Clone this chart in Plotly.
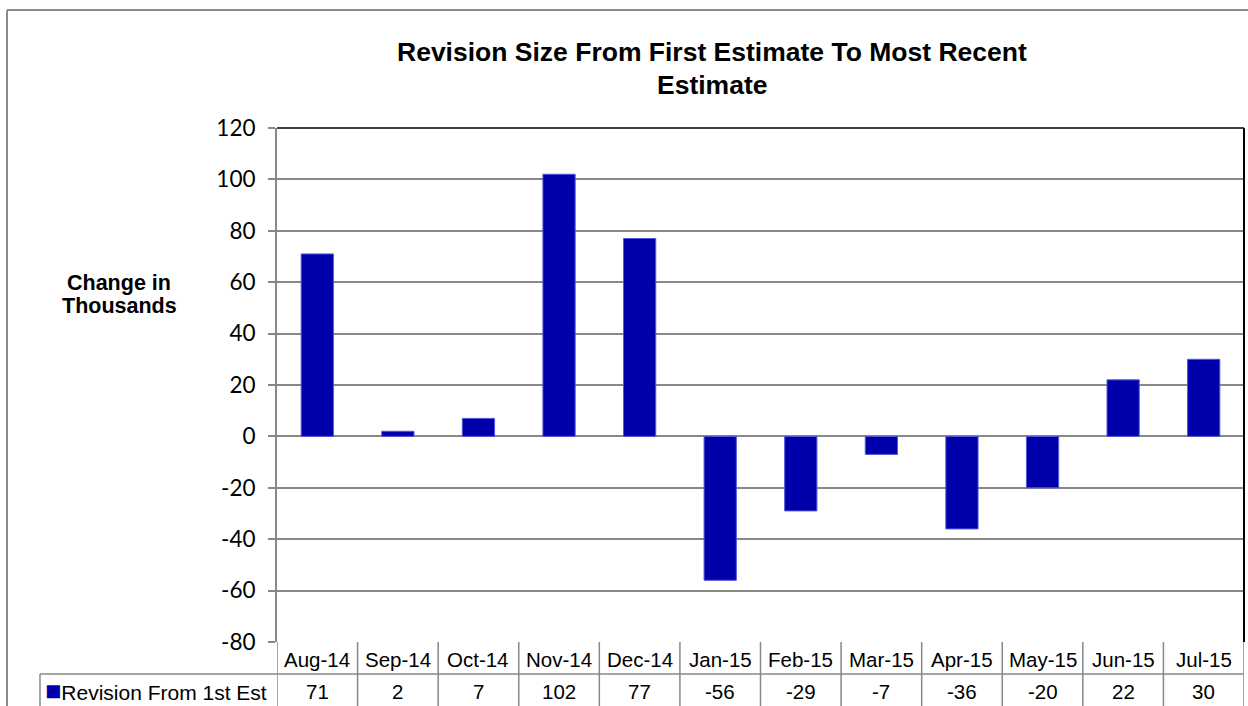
import plotly.graph_objects as go

categories = ["Aug-14", "Sep-14", "Oct-14", "Nov-14", "Dec-14", "Jan-15",
              "Feb-15", "Mar-15", "Apr-15", "May-15", "Jun-15", "Jul-15"]
revision = [71, 2, 7, 102, 77, -56, -29, -7, -36, -20, 22, 30]
series_name = "Revision From 1st Est"
title_lines = ["Revision Size From First Estimate To Most Recent", "Estimate"]
y_title_lines = ["Change in", "Thousands"]
y_ticks = [-80, -60, -40, -20, 0, 20, 40, 60, 80, 100, 120]
y_tick_text = [str(v) for v in y_ticks]

W, H = 1248, 706
L, R, T, B = 277, 4, 128, 64
pw, ph = W - L - R, H - T - B


def px_x(px):
    return (px - L) / pw


def px_y(py):
    return (H - B - py) / ph


bar_color = "#0000AA"
grid = "#888888"
arial = "Arial, Liberation Sans, sans-serif"

fig = go.Figure()
fig.add_trace(go.Bar(
    x=list(range(len(categories))), y=revision, name=series_name,
    marker=dict(color=bar_color, line=dict(color="#5555dd", width=1)),
    width=0.4, showlegend=False,
))

shapes = []
ann = []

# plot area top & right black border
shapes.append(dict(type="line", xref="paper", yref="paper", x0=0, x1=1, y0=1, y1=1,
                   line=dict(color="black", width=1.5)))
shapes.append(dict(type="line", xref="paper", yref="paper", x0=1, x1=1, y0=0, y1=1,
                   line=dict(color="black", width=2)))

# outer chart border (grey)
shapes.append(dict(type="line", xref="paper", yref="paper", x0=px_x(7), x1=px_x(1260),
                   y0=px_y(10), y1=px_y(10), line=dict(color="#8a8a8a", width=2)))
shapes.append(dict(type="line", xref="paper", yref="paper", x0=px_x(7), x1=px_x(7),
                   y0=px_y(10), y1=px_y(720), line=dict(color="#8a8a8a", width=2)))

# data table
row_line = px_y(674)
bottom = px_y(720)
for i in range(len(categories) + 1):
    shapes.append(dict(type="line", xref="x", yref="paper", x0=i - 0.5, x1=i - 0.5,
                       y0=0, y1=bottom, line=dict(color=grid, width=1.5)))
shapes.append(dict(type="line", xref="paper", yref="paper", x0=px_x(40), x1=1,
                   y0=row_line, y1=row_line, line=dict(color=grid, width=1.5)))
shapes.append(dict(type="line", xref="paper", yref="paper", x0=px_x(40), x1=px_x(40),
                   y0=row_line, y1=bottom, line=dict(color=grid, width=1.5)))

for i, (c, v) in enumerate(zip(categories, revision)):
    ann.append(dict(x=i, y=px_y(659), xref="x", yref="paper", text=c, showarrow=False,
                    font=dict(family=arial, size=20.5, color="black"),
                    xanchor="center", yanchor="middle"))
    ann.append(dict(x=i, y=px_y(691), xref="x", yref="paper", text=str(v), showarrow=False,
                    font=dict(family=arial, size=20.5, color="black"),
                    xanchor="center", yanchor="middle"))

ann.append(dict(x=px_x(43), y=px_y(691), xref="paper", yref="paper",
                text=f"<span style='color:{bar_color};font-size:27px'>■</span>{series_name}",
                showarrow=False, font=dict(family=arial, size=21, color="black"),
                xanchor="left", yanchor="middle"))

# title
ann.append(dict(x=px_x(712), y=px_y(52), xref="paper", yref="paper", text=f"<b>{title_lines[0]}</b>",
                showarrow=False, font=dict(family=arial, size=26.5, color="black"),
                xanchor="center", yanchor="middle"))
ann.append(dict(x=px_x(712), y=px_y(85), xref="paper", yref="paper", text=f"<b>{title_lines[1]}</b>",
                showarrow=False, font=dict(family=arial, size=26.5, color="black"),
                xanchor="center", yanchor="middle"))

# y title
for line, py in zip(y_title_lines, [283, 306]):
    ann.append(dict(x=px_x(119), y=px_y(py), xref="paper", yref="paper", text=f"<b>{line}</b>",
                    showarrow=False, font=dict(family=arial, size=21.5, color="black"),
                    xanchor="center", yanchor="middle"))

fig.update_layout(
    width=W, height=H,
    margin=dict(l=L, r=R, t=T, b=B, pad=0),
    paper_bgcolor="white", plot_bgcolor="white",
    shapes=shapes, annotations=ann,
    xaxis=dict(range=[-0.5, len(categories) - 0.5], showticklabels=False, showgrid=False,
               zeroline=False, ticks="", showline=False, fixedrange=True),
    yaxis=dict(range=[-80, 120], tickvals=y_ticks, ticktext=y_tick_text,
               showgrid=True, gridcolor=grid, gridwidth=1.5,
               zeroline=True, zerolinecolor=grid, zerolinewidth=1.5,
               showline=True, linecolor=grid, linewidth=2, ticks="outside", ticklen=7,
               tickcolor=grid, tickwidth=1.5,
               tickfont=dict(family="Lato, Carlito, sans-serif", size=22.5, color="black"),
               ticklabelstandoff=8, fixedrange=True),
)

fig.write_html("out.html")
